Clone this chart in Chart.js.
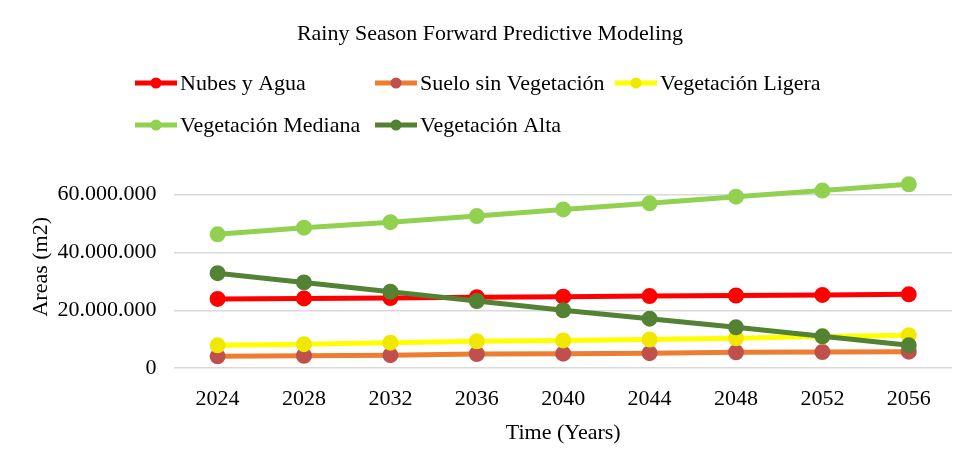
<!DOCTYPE html>
<html>
<head>
<meta charset="utf-8">
<script src="https://cdn.jsdelivr.net/npm/chart.js@4/dist/chart.umd.min.js"></script>
<style>
    body { margin: 0; background: #fff; }
    #caixa { width: 974px; height: 472px; }
</style>
</head>
<body>
<div id="caixa"><canvas id="chartModelo"></canvas></div>
<script>
const anos = ['2024', '2028', '2032', '2036', '2040', '2044', '2048', '2052', '2056'];

const nubesAgua = [23900000, 24100000, 24200000, 24500000, 24700000, 24900000, 25100000, 25300000, 25500000];
const sueloSinVegetacion = [4100000, 4300000, 4500000, 4900000, 5000000, 5200000, 5500000, 5600000, 5700000];
const vegetacionLigera = [7900000, 8300000, 8800000, 9300000, 9600000, 9900000, 10300000, 10900000, 11400000];
const vegetacionMediana = [46200000, 48500000, 50400000, 52500000, 54800000, 56900000, 59200000, 61300000, 63500000];
const vegetacionAlta = [32800000, 29600000, 26400000, 23200000, 20000000, 17100000, 14100000, 11000000, 7900000];

const ticksY = [0, 20000000, 40000000, 60000000];

const fonte = '"Liberation Serif", "Times New Roman", serif';

function formatarNumero(v){
    return v.toString().replace(/\B(?=(\d{3})+(?!\d))/g, '.');
}

// legenda em grade, igual ao Excel
const legendaGrade = {
    id: 'legendaGrade',
    afterDraw(chart){
        const ctx = chart.ctx;
        const itens = chart.data.datasets;
        const largLinha = 42;
        const espaco = 3;
        const colW = 240;
        const x0 = 135, y0 = 83, alturaLinha = 42;
        ctx.save();
        ctx.font = `22px ${fonte}`;
        itens.forEach((d, i) => {
            const x = x0 + (i % 3) * colW;
            const y = y0 + Math.floor(i / 3) * alturaLinha;
            ctx.strokeStyle = d.borderColor;
            ctx.lineWidth = 5;
            ctx.beginPath();
            ctx.moveTo(x, y);
            ctx.lineTo(x + largLinha, y);
            ctx.stroke();
            ctx.fillStyle = d.pointBackgroundColor;
            ctx.beginPath();
            ctx.arc(x + largLinha / 2, y, 5.5, 0, Math.PI * 2);
            ctx.fill();
            ctx.fillStyle = '#000';
            ctx.textBaseline = 'middle';
            ctx.textAlign = 'left';
            ctx.fillText(d.label, x + largLinha + espaco, y + 1);
        });
        ctx.restore();
    }
};

function serie(label, dados, corLinha, corPonto, ordem){
    return {
        label: label,
        data: dados,
        borderColor: corLinha,
        backgroundColor: corLinha,
        pointBackgroundColor: corPonto,
        pointBorderColor: corPonto,
        pointRadius: 5.5,
        pointHoverRadius: 5.5,
        borderWidth: 5,
        tension: 0,
        order: ordem
    };
}

const grafico = document.getElementById('chartModelo');

new Chart(grafico, {
    type: 'line',
    data: {
        labels: anos,
        datasets: [
            serie('Nubes y Agua', nubesAgua, '#FF0000', '#FF0000', 5),
            serie('Suelo sin Vegetación', sueloSinVegetacion, '#ED7D31', '#C0504D', 4),
            serie('Vegetación Ligera', vegetacionLigera, '#FFFF00', '#F0E800', 3),
            serie('Vegetación Mediana', vegetacionMediana, '#92D050', '#92D050', 2),
            serie('Vegetación Alta', vegetacionAlta, '#548235', '#548235', 1)
        ]
    },
    options: {
        responsive: true,
        maintainAspectRatio: false,
        animation: false,
        layout: {
            padding: { left: 28, right: 22, top: 0, bottom: 26 }
        },
        plugins: {
            legend: { display: false },
            tooltip: { enabled: false },
            title: {
                display: true,
                text: 'Rainy Season Forward Predictive Modeling',
                color: '#000',
                font: { family: fonte, size: 22, weight: 'normal' },
                padding: { top: 21, bottom: 118 }
            }
        },
        scales: {
            x: {
                offset: true,
                grid: { display: false, drawTicks: false },
                border: { display: false },
                ticks: {
                    color: '#000',
                    padding: 18,
                    font: { family: fonte, size: 22 }
                },
                title: {
                    display: true,
                    text: 'Time (Years)',
                    color: '#000',
                    font: { family: fonte, size: 22 },
                    padding: { top: -11, bottom: 0 }
                }
            },
            y: {
                min: 0,
                max: 70000000,
                afterBuildTicks: (eixo) => {
                    eixo.ticks = ticksY.map((v) => ({ value: v }));
                },
                grid: { color: '#D9D9D9', lineWidth: 1.5, drawTicks: false },
                border: { display: false },
                ticks: {
                    color: '#000',
                    padding: 18,
                    font: { family: fonte, size: 22 },
                    callback: (v) => formatarNumero(v)
                },
                title: {
                    display: true,
                    text: 'Areas (m2)',
                    color: '#000',
                    font: { family: fonte, size: 22 },
                    padding: { top: 0, bottom: -15 }
                }
            }
        }
    },
    plugins: [legendaGrade]
});
</script>
</body>
</html>
